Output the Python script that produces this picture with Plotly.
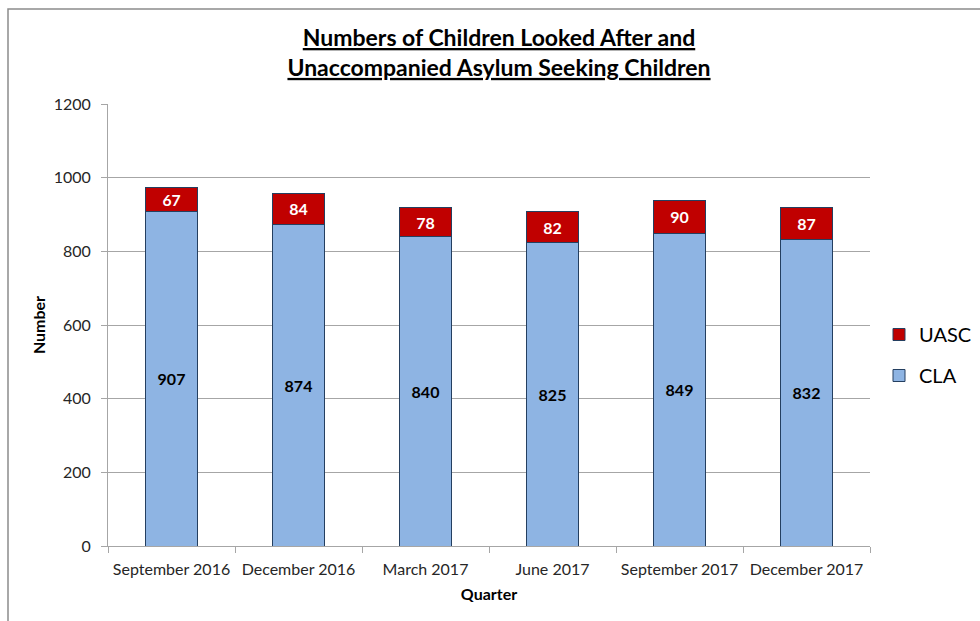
import plotly.graph_objects as go

quarters = ["September 2016", "December 2016", "March 2017", "June 2017",
            "September 2017", "December 2017"]
cla = [907, 874, 840, 825, 849, 832]
uasc = [67, 84, 78, 82, 90, 87]
y_ticks = [0, 200, 400, 600, 800, 1000, 1200]

FONT = "Lato, 'Open Sans', sans-serif"
W, H = 980, 621
L, R, T, B = 108, 110, 104, 75
pw, ph = W - L - R, H - T - B

def px_x(p):
    return (p - L) / pw

def px_y(p):
    return (H - B - p) / ph

fig = go.Figure()
fig.add_trace(go.Bar(
    x=quarters, y=cla, name="CLA", legendgroup="cla", legendrank=2,
    marker=dict(color="#8EB4E3", line=dict(color="#243F60", width=1)),
    width=0.41,
    text=cla, textposition="inside", insidetextanchor="middle", textangle=0,
    textfont=dict(family=FONT, size=16, color="#000000", weight="bold"),
))
fig.add_trace(go.Bar(
    x=quarters, y=uasc, name="UASC", legendgroup="uasc", legendrank=1,
    marker=dict(color="#C00000", line=dict(color="#243F60", width=1)),
    width=0.41,
    text=uasc, textposition="inside", insidetextanchor="middle", textangle=0,
    textfont=dict(family=FONT, size=16, color="#FFFFFF", weight="bold"),
))

fig.update_layout(
    width=W, height=H,
    margin=dict(l=L, r=R, t=T, b=B, pad=0, autoexpand=False),
    barmode="stack",
    paper_bgcolor="white", plot_bgcolor="white",
    font=dict(family=FONT, size=16, color="#262626"),
    title=dict(
        text="<u>Numbers of Children Looked After and</u><br><u>Unaccompanied Asylum Seeking Children</u>",
        x=499 / W, xref="container", xanchor="center",
        y=1 - 46 / H, yref="container", yanchor="middle",
        font=dict(family=FONT, size=23, color="#000000", weight="bold"),
    ),
    showlegend=True,
    legend=dict(
        x=px_x(879), y=px_y(355), xanchor="left", yanchor="middle",
        traceorder="grouped",
        font=dict(family=FONT, size=20, color="#000000"),
        itemwidth=30, tracegroupgap=12,
        bgcolor="rgba(0,0,0,0)",
    ),
    xaxis=dict(
        showline=True, linecolor="#A6A6A6", linewidth=1,
        ticks="outside", tickson="boundaries", ticklen=6, tickcolor="#A6A6A6",
        ticklabelstandoff=9,
        tickfont=dict(family=FONT, size=16, color="#262626"),
        title=dict(text="<b>Quarter</b>", font=dict(family=FONT, size=16, color="#000000"), standoff=11),
        showgrid=False,
    ),
    yaxis=dict(
        range=[0, 1200], tickvals=y_ticks,
        showline=True, linecolor="#A6A6A6", linewidth=1,
        ticks="outside", ticklen=6, tickcolor="#A6A6A6",
        ticklabelstandoff=7,
        showgrid=True, gridcolor="#A6A6A6", gridwidth=1,
        tickfont=dict(family=FONT, size=16, color="#262626"),
        title=dict(text="<b>Number</b>", font=dict(family=FONT, size=16, color="#000000"), standoff=4),
        zeroline=False,
    ),
    shapes=[dict(
        type="rect", xref="paper", yref="paper",
        x0=px_x(8), x1=px_x(990), y0=px_y(640), y1=px_y(9),
        line=dict(color="#8C8C8C", width=1.5), fillcolor="rgba(0,0,0,0)",
        layer="below",
    )],
)

fig.write_html("out.html")
